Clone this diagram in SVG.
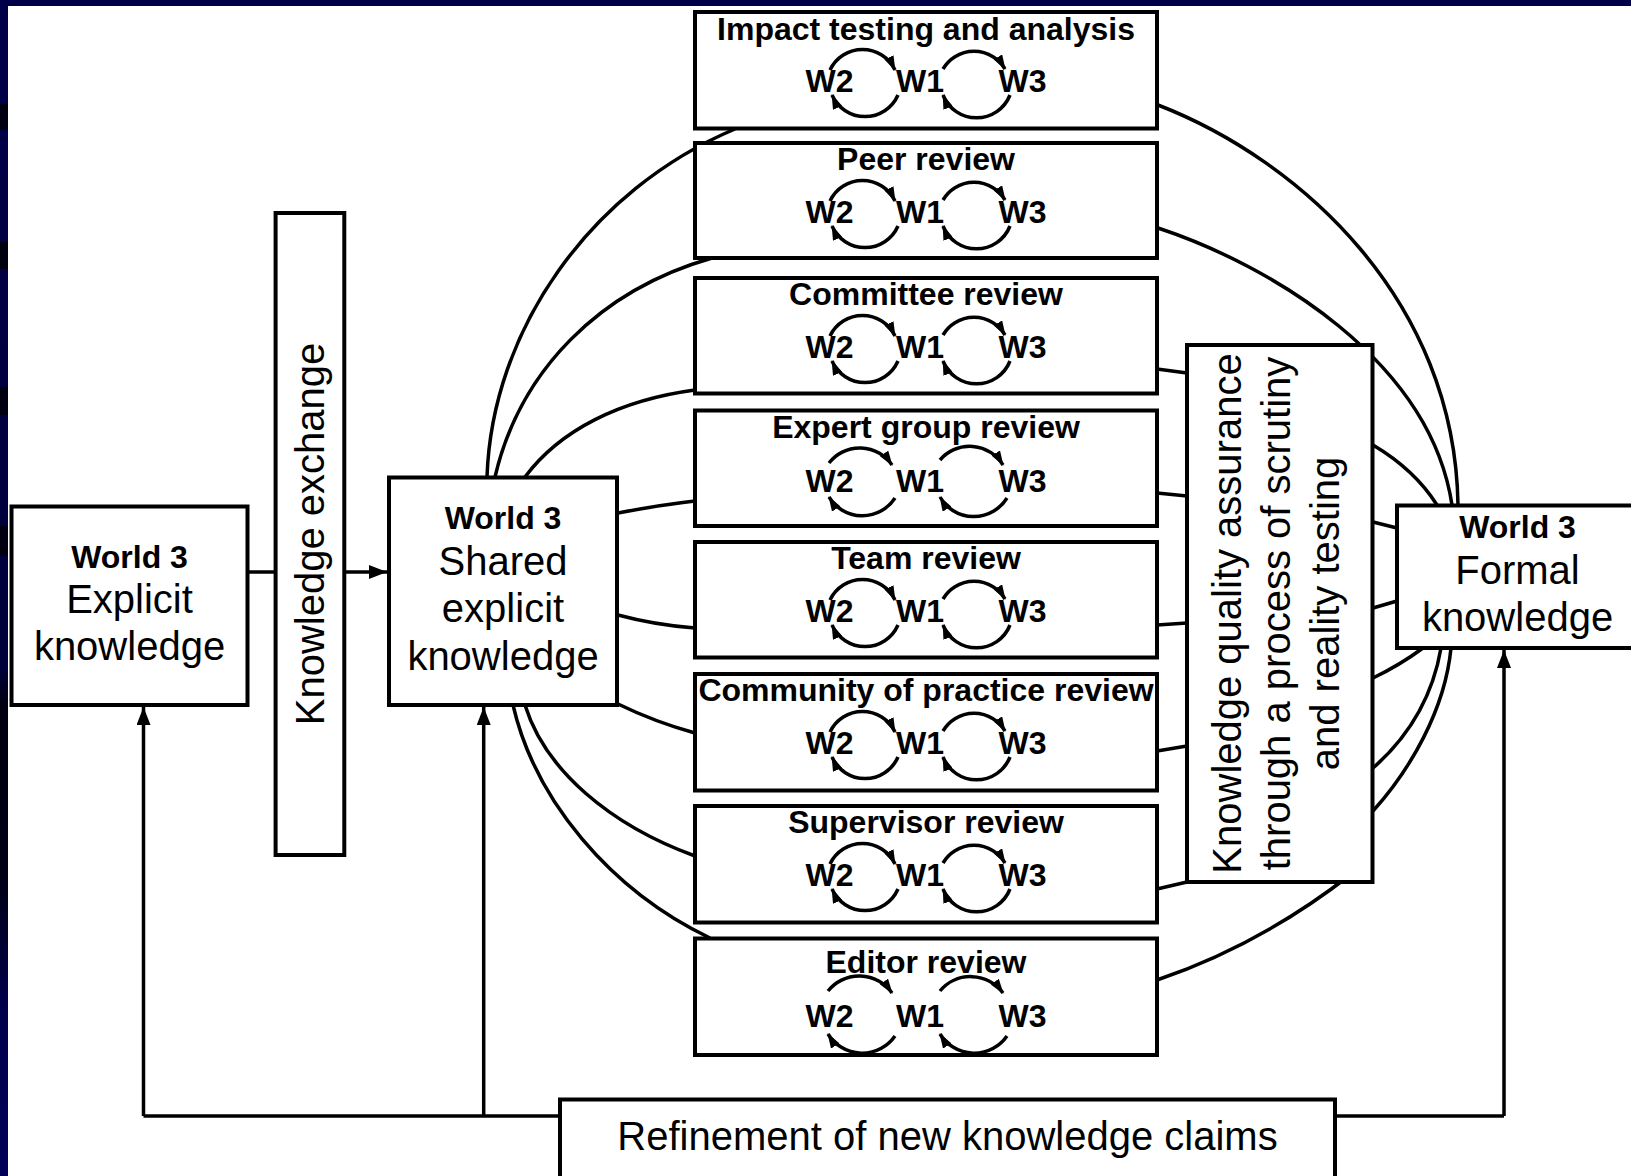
<svg xmlns="http://www.w3.org/2000/svg" width="1631" height="1176" viewBox="0 0 1631 1176">
<defs>
<style>
.box{fill:#fff;stroke:#000;stroke-width:4}
.ln{fill:none;stroke:#000;stroke-width:3.5}
.arc{fill:none;stroke:#000;stroke-width:3.5}
.b{font-family:"Liberation Sans",Arial,sans-serif;font-weight:bold;font-size:32px;text-anchor:middle;fill:#000}
.r{font-family:"Liberation Sans",Arial,sans-serif;font-size:40px;text-anchor:middle;fill:#000}
</style>
<linearGradient id="band" x1="0" y1="0" x2="0" y2="1">
<stop offset="0" stop-color="#00004a"/>
<stop offset="0.57" stop-color="#00003a"/>
<stop offset="0.6" stop-color="#000010"/>
<stop offset="0.75" stop-color="#000018"/>
<stop offset="0.85" stop-color="#00004a"/>
<stop offset="1" stop-color="#00005a"/>
</linearGradient>
<marker id="sa" markerUnits="userSpaceOnUse" markerWidth="15" markerHeight="10" refX="14" refY="5" orient="auto"><path d="M0,0 L15,5 L0,10 Z" fill="#000"/></marker>
<marker id="ba" markerUnits="userSpaceOnUse" markerWidth="18" markerHeight="14" refX="18" refY="7" orient="auto"><path d="M0,0 L18,7 L0,14 Z" fill="#000"/></marker>
<g id="cyc">
<path class="arc" marker-end="url(#sa)" d="M830,58 A36,36 0 0 1 895,58"/>
<path class="arc" marker-end="url(#sa)" d="M898,83 A36,36 0 0 1 832,83"/>
<path class="arc" marker-end="url(#sa)" d="M943,57 A36,36 0 0 1 1005,57"/>
<path class="arc" marker-end="url(#sa)" d="M1010,83 A36,36 0 0 1 943,83"/>
</g>
</defs>

<rect x="0" y="0" width="1631" height="1176" fill="#fff"/>
<rect x="0" y="0" width="1631" height="6" fill="#00004a"/>
<rect x="0" y="0" width="8" height="1176" fill="url(#band)"/>
<g fill="#000010">
<rect x="0" y="104" width="8" height="26"/>
<rect x="0" y="242" width="8" height="27"/>
<rect x="0" y="387" width="8" height="28"/>
<rect x="0" y="526" width="8" height="30"/>
</g>

<g id="connectors">
<path class="ln" d="M487,477 C492,330 590,190 735,129"/>
<path class="ln" d="M495,477 C520,370 600,290 712,258"/>
<path class="ln" d="M525,477 C560,430 620,400 695,390"/>
<path class="ln" d="M618,513 Q660,505 695,501"/>
<path class="ln" d="M618,615 Q655,625 695,628"/>
<path class="ln" d="M618,704 Q655,722 695,733"/>
<path class="ln" d="M525,705 C545,770 610,825 695,856"/>
<path class="ln" d="M513,705 C535,800 610,890 710,938"/>
<path class="ln" d="M1158,105 C1300,160 1455,300 1458,505"/>
<path class="ln" d="M1158,228 C1270,265 1430,360 1452,505"/>
<path class="ln" d="M1157,369 L1187,373"/>
<path class="ln" d="M1373,445 Q1415,470 1437,505"/>
<path class="ln" d="M1157,493 L1187,496"/>
<path class="ln" d="M1373,522 L1397,528"/>
<path class="ln" d="M1157,625 L1187,623"/>
<path class="ln" d="M1373,608 L1397,601"/>
<path class="ln" d="M1157,751 L1187,746"/>
<path class="ln" d="M1373,678 Q1400,665 1423,648"/>
<path class="ln" d="M1373,768 C1405,740 1432,700 1441,648"/>
<path class="ln" d="M1373,811 C1410,770 1445,710 1451,648"/>
<path class="ln" d="M1157,889 L1187,882"/>
<path class="ln" d="M1157,980 Q1260,945 1350,875"/>
<path class="ln" d="M247,572 L276,572"/>
<path class="ln" marker-end="url(#ba)" d="M344,572 L387,572"/>
<path class="ln" d="M143.5,1116 L560,1116"/>
<path class="ln" marker-end="url(#ba)" d="M143.5,1116 L143.5,707"/>
<path class="ln" marker-end="url(#ba)" d="M483.7,1116 L483.7,707"/>
<path class="ln" d="M1335,1116 L1504,1116"/>
<path class="ln" marker-end="url(#ba)" d="M1504,1116 L1504,650"/>
</g>

<g id="explicit">
<rect class="box" x="11.5" y="506.5" width="236" height="198.5"/>
<text class="b" x="129.5" y="568">World 3</text>
<text class="r" x="129.5" y="613">Explicit</text>
<text class="r" x="129.5" y="660">knowledge</text>
</g>

<g id="exchange">
<rect class="box" x="275.6" y="213" width="68.7" height="642"/>
<text class="r" transform="translate(324,534) rotate(-90)">Knowledge exchange</text>
</g>

<g id="shared">
<rect class="box" x="389" y="477.5" width="228" height="227.5"/>
<text class="b" x="503" y="529">World 3</text>
<text class="r" x="503" y="575">Shared</text>
<text class="r" x="503" y="622">explicit</text>
<text class="r" x="503" y="670">knowledge</text>
</g>

<g id="impact">
<rect class="box" x="695" y="12" width="462" height="116.5"/>
<text class="b" x="926" y="40">Impact testing and analysis</text>
<text class="b" x="829.5" y="92">W2</text><text class="b" x="920" y="92">W1</text><text class="b" x="1022.5" y="92">W3</text>
<use href="#cyc" transform="translate(0,12)"/>
</g>

<g id="peer">
<rect class="box" x="695" y="143" width="462" height="115"/>
<text class="b" x="926" y="170">Peer review</text>
<text class="b" x="829.5" y="223">W2</text><text class="b" x="920" y="223">W1</text><text class="b" x="1022.5" y="223">W3</text>
<use href="#cyc" transform="translate(0,143)"/>
</g>

<g id="committee">
<rect class="box" x="695" y="278" width="462" height="115.5"/>
<text class="b" x="926" y="305">Committee review</text>
<text class="b" x="829.5" y="358">W2</text><text class="b" x="920" y="358">W1</text><text class="b" x="1022.5" y="358">W3</text>
<use href="#cyc" transform="translate(0,278)"/>
</g>

<g id="expert">
<rect class="box" x="695" y="410.5" width="462" height="115.5"/>
<text class="b" x="926" y="438">Expert group review</text>
<text class="b" x="829.5" y="492">W2</text><text class="b" x="920" y="492">W1</text><text class="b" x="1022.5" y="492">W3</text>
<path class="arc" marker-end="url(#sa)" d="M829,463 A39,39 0 0 1 892,465"/>
<path class="arc" marker-end="url(#sa)" d="M895,498 A39,39 0 0 1 829,497"/>
<path class="arc" marker-end="url(#sa)" d="M940,460 A39,39 0 0 1 1003,465"/>
<path class="arc" marker-end="url(#sa)" d="M1007,498 A39,39 0 0 1 940,497"/>
</g>

<g id="team">
<rect class="box" x="695" y="542" width="462" height="115.5"/>
<text class="b" x="926" y="569">Team review</text>
<text class="b" x="829.5" y="622">W2</text><text class="b" x="920" y="622">W1</text><text class="b" x="1022.5" y="622">W3</text>
<use href="#cyc" transform="translate(0,542)"/>
</g>

<g id="community">
<rect class="box" x="695" y="674" width="462" height="116.5"/>
<text class="b" x="926" y="701">Community of practice review</text>
<text class="b" x="829.5" y="754">W2</text><text class="b" x="920" y="754">W1</text><text class="b" x="1022.5" y="754">W3</text>
<use href="#cyc" transform="translate(0,674)"/>
</g>

<g id="supervisor">
<rect class="box" x="695" y="806" width="462" height="116.5"/>
<text class="b" x="926" y="833">Supervisor review</text>
<text class="b" x="829.5" y="886">W2</text><text class="b" x="920" y="886">W1</text><text class="b" x="1022.5" y="886">W3</text>
<use href="#cyc" transform="translate(0,806)"/>
</g>

<g id="editor">
<rect class="box" x="695" y="938.5" width="462" height="116.5"/>
<text class="b" x="926" y="973">Editor review</text>
<text class="b" x="829.5" y="1027">W2</text><text class="b" x="920" y="1027">W1</text><text class="b" x="1022.5" y="1027">W3</text>
<path class="arc" marker-end="url(#sa)" d="M828,991 A40,40 0 0 1 892,993"/>
<path class="arc" marker-end="url(#sa)" d="M895,1036 A40,40 0 0 1 828,1034"/>
<path class="arc" marker-end="url(#sa)" d="M940,991 A40,40 0 0 1 1003,993"/>
<path class="arc" marker-end="url(#sa)" d="M1007,1036 A40,40 0 0 1 940,1034"/>
</g>

<g id="quality">
<rect class="box" x="1187" y="345" width="185.5" height="537"/>
<text class="r" transform="translate(1241,613.5) rotate(-90)">Knowledge quality assurance</text>
<text class="r" transform="translate(1290,613.5) rotate(-90)">through a process of scrutiny</text>
<text class="r" transform="translate(1339,613.5) rotate(-90)">and reality testing</text>
</g>

<g id="formal">
<rect class="box" x="1397" y="505.5" width="245" height="142.5"/>
<text class="b" x="1517.5" y="538">World 3</text>
<text class="r" x="1517.5" y="584">Formal</text>
<text class="r" x="1517.5" y="631">knowledge</text>
</g>

<g id="refinement">
<rect class="box" x="560" y="1099.5" width="775" height="100"/>
<text class="r" x="947.5" y="1150">Refinement of new knowledge claims</text>
</g>
</svg>
